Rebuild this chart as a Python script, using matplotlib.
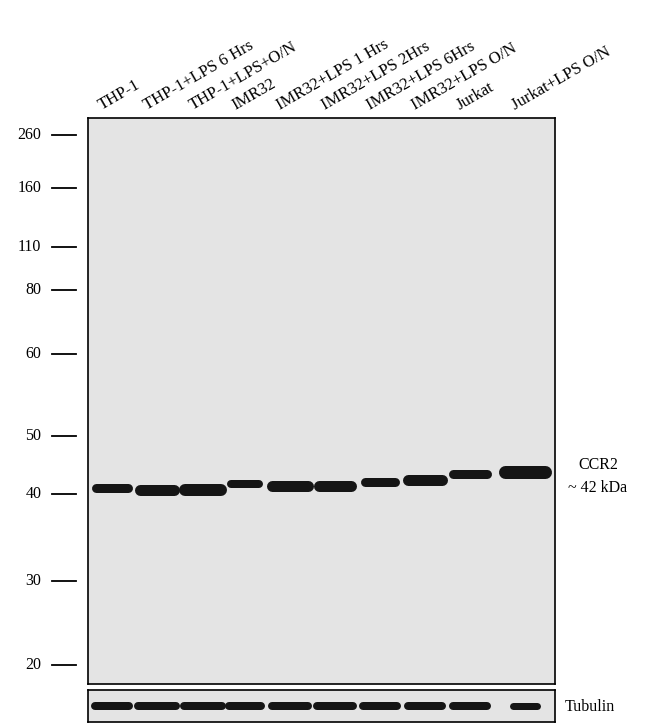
import matplotlib
matplotlib.use("Agg")
import matplotlib.pyplot as plt

lanes = ["THP-1", "THP-1+LPS 6 Hrs", "THP-1+LPS+O/N", "IMR32", "IMR32+LPS 1 Hrs",
         "IMR32+LPS 2Hrs", "IMR32+LPS 6Hrs", "IMR32+LPS O/N", "Jurkat", "Jurkat+LPS O/N"]
lane_x = [112, 157, 203, 245, 290, 335, 380, 425, 470, 525]
band_pos = [488, 490, 490, 484, 486, 486, 482, 480, 474, 472]
band_halfw = [16, 17, 18, 14, 18, 16, 15, 17, 17, 20]
band_thick = [9, 11, 12, 8, 11, 11, 9, 11, 9, 13]
tub_halfw = [17, 19, 19, 16, 18, 18, 17, 17, 17, 12]
tub_thick = [8, 8, 8, 8, 8, 8, 8, 8, 8, 7]
marker_kda = ["260", "160", "110", "80", "60", "50", "40", "30", "20"]
marker_pos = [135, 188, 247, 290, 354, 436, 494, 581, 665]

plt.rcParams['font.family'] = ['Liberation Serif', 'DejaVu Serif']
W, H = 650, 727
fig = plt.figure(figsize=(6.5, 7.27), dpi=100)

def axpix(x0, y0, x1, y1):
    return fig.add_axes([x0 / W, 1 - y1 / H, (x1 - x0) / W, (y1 - y0) / H])

bg = "#e4e4e4"
ax = axpix(88, 118, 555, 684)
ax.set_facecolor(bg)
ax.set_xlim(88, 555)
ax.set_ylim(684, 118)
ax.set_xticks([]); ax.set_yticks([])
for s in ax.spines.values():
    s.set_linewidth(1.2)
for x, y, w, t in zip(lane_x, band_pos, band_halfw, band_thick):
    ax.plot([x - w, x + w], [y, y], color="#151515", lw=t * 0.72, solid_capstyle="round")

tr = ax.get_yaxis_transform()
for lab, y in zip(marker_kda, marker_pos):
    ax.plot([-0.077, -0.026], [y, y], color="black", lw=1.3, transform=tr, clip_on=False)
    ax.text(-0.10, y, lab, transform=tr, ha="right", va="center", fontsize=11.5)

for lab, x in zip(lanes, lane_x):
    ax.text(x - 8, 113, lab, rotation=30, rotation_mode="anchor", ha="left", va="bottom",
            fontsize=12, clip_on=False)

ax.text(578, 465, "CCR2", fontsize=11.5, va="center", ha="left", clip_on=False)
ax.text(568, 488, "~ 42 kDa", fontsize=11.5, va="center", ha="left", clip_on=False)

ax2 = axpix(88, 690, 555, 722)
ax2.set_facecolor(bg)
ax2.set_xlim(88, 555)
ax2.set_ylim(722, 690)
ax2.set_xticks([]); ax2.set_yticks([])
for s in ax2.spines.values():
    s.set_linewidth(1.2)
for x, w, t in zip(lane_x, tub_halfw, tub_thick):
    ax2.plot([x - w, x + w], [706, 706], color="#151515", lw=t * 0.72, solid_capstyle="round")
ax2.text(565, 707, "Tubulin", fontsize=11.5, va="center", ha="left", clip_on=False)

fig.savefig("out.png", dpi=100)
